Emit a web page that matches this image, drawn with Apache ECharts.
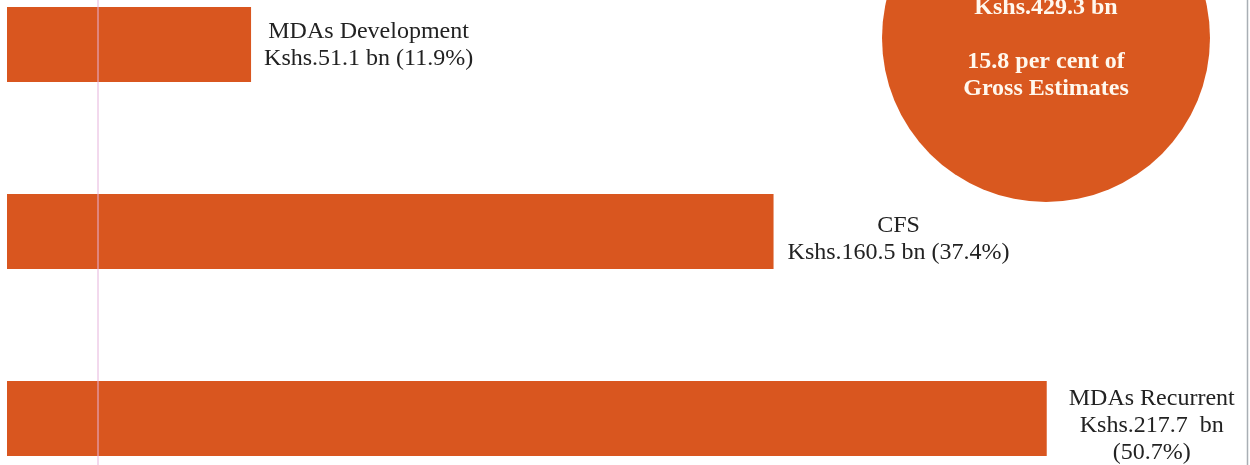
<!DOCTYPE html>
<html>
<head>
<meta charset="utf-8">
<script src="https://cdn.jsdelivr.net/npm/echarts@6/dist/echarts.min.js"></script>
<style>
  html, body { margin: 0; padding: 0; background: #ffffff; }
  #chart { width: 1250px; height: 465px; }
</style>
</head>
<body>
<div id="chart"></div>
<script>
// Budget components (Kshs. billion) and their share of the total
const categories = ['MDAs Development', 'CFS', 'MDAs Recurrent'];
const values = [51.1, 160.5, 217.7];
const shares = [11.9, 37.4, 50.7];
const totalBn = 429.3;
const grossSharePct = 15.8;

const BAR_COLOR = '#D9561F';
const CIRCLE_COLOR = '#D9581F';
const SERIF = '"Liberation Serif", "Times New Roman", serif';

const chart = echarts.init(document.getElementById('chart'));

// label text per bar; the long one wraps onto three lines
function labelLines(i) {
  const amount = 'Kshs.' + values[i].toFixed(1);
  const pct = '(' + shares[i].toFixed(1) + '%)';
  if (i === 2) {
    return [categories[i], amount + '  bn', pct];
  }
  return [categories[i], amount + ' bn ' + pct];
}

const labelDistance = [13, 14, 22];
const labelOffsetY = [1, 8, 7];

const seriesData = values.map((v, i) => ({
  value: v,
  label: {
    distance: labelDistance[i],
    offset: [0, labelOffsetY[i]]
  }
}));

chart.setOption({
  animation: false,
  backgroundColor: '#ffffff',
  // categories sit on the tick points (no boundary gap), bars centred on them
  grid: { left: 7, top: 44.5, width: 1194, height: 374, containLabel: false },
  xAxis: {
    type: 'value',
    min: 0,
    max: 250,
    show: false
  },
  yAxis: {
    type: 'category',
    data: categories,
    inverse: true,
    boundaryGap: false,
    show: false
  },
  series: [{
    type: 'bar',
    data: seriesData,
    barWidth: 75,
    itemStyle: { color: BAR_COLOR },
    label: {
      show: true,
      position: 'right',
      formatter: (p) => labelLines(p.dataIndex).map(t => '{c|' + t + '}').join('\n'),
      rich: {
        c: {
          fontFamily: SERIF,
          fontSize: 24,
          lineHeight: 27,
          color: '#222222',
          align: 'center'
        }
      }
    }
  }],
  graphic: [
    {
      type: 'line',
      shape: { x1: 98, y1: 0, x2: 98, y2: 465 },
      style: { stroke: '#e6b3dc', lineWidth: 1 },
      z: 10
    },
    {
      type: 'line',
      shape: { x1: 1247.5, y1: 0, x2: 1247.5, y2: 465 },
      style: { stroke: '#a9afb5', lineWidth: 1.5 },
      z: 10
    },
    {
      type: 'circle',
      shape: { cx: 1046, cy: 38, r: 164 },
      style: { fill: CIRCLE_COLOR },
      z: 5
    },
    {
      type: 'text',
      x: 1046,
      y: -6,
      z: 6,
      style: {
        text: 'Kshs.' + totalBn.toFixed(1) + ' bn\n\n' + grossSharePct.toFixed(1) + ' per cent of\nGross Estimates',
        fontFamily: SERIF,
        fontWeight: 'bold',
        fontSize: 24,
        lineHeight: 27,
        fill: '#fff8ee',
        align: 'center',
        verticalAlign: 'top'
      }
    }
  ]
});
</script>
</body>
</html>
